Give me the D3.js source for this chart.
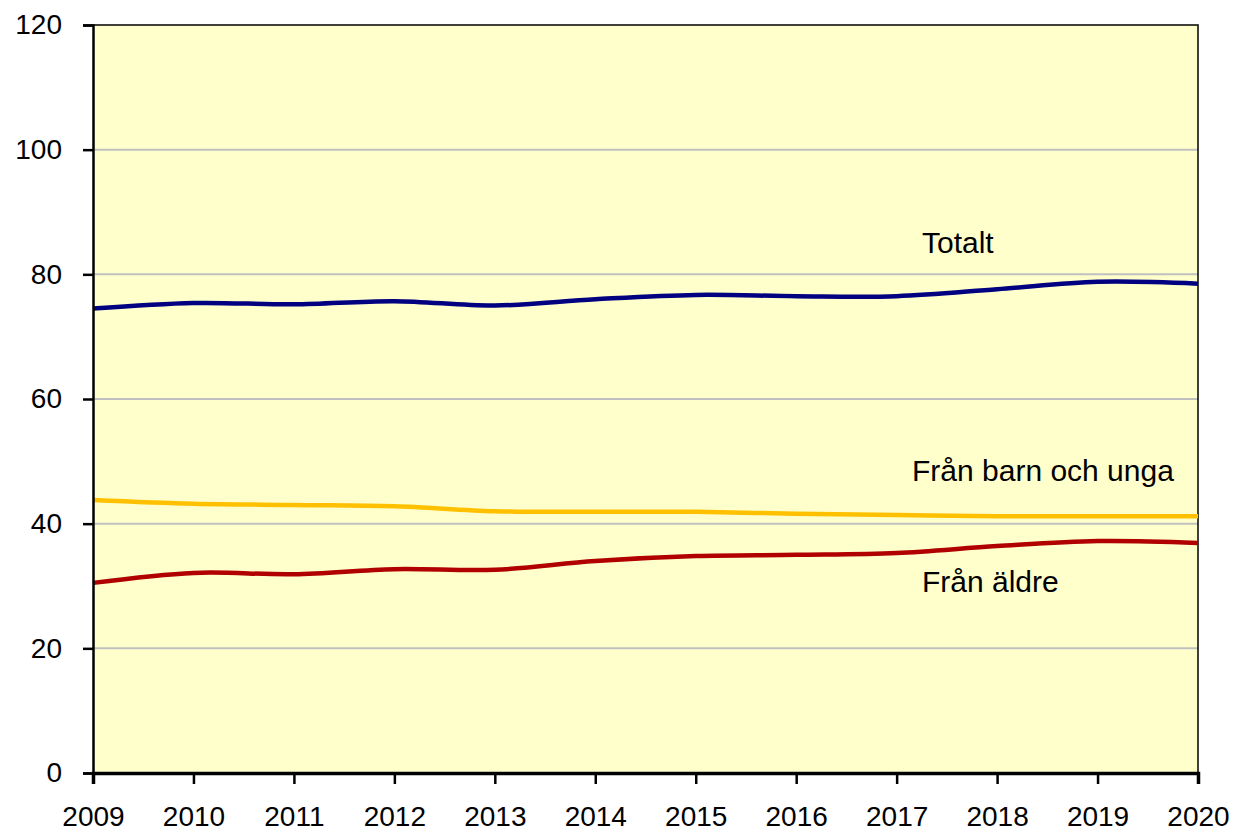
<!DOCTYPE html>
<html>
<head>
<meta charset="utf-8">
<script src="https://cdn.jsdelivr.net/npm/d3@7"></script>
<style>
  body { margin: 0; background: #fff; }
  text { font-family: "Liberation Sans", Arial, sans-serif; }
</style>
</head>
<body>
<svg id="chart"></svg>
<script>
const width = 1235;
const height = 836;
const margin = {top: 25, right: 37, bottom: 63, left: 93};

const years = [2009, 2010, 2011, 2012, 2013, 2014, 2015, 2016, 2017, 2018, 2019, 2020];
const totalt = [74.5, 75.4, 75.2, 75.7, 75.0, 76.0, 76.7, 76.5, 76.5, 77.6, 78.8, 78.5];
const barnUnga = [43.8, 43.2, 43.0, 42.8, 42.0, 41.9, 41.9, 41.6, 41.4, 41.2, 41.2, 41.2];
const aldre = [30.5, 32.1, 31.9, 32.7, 32.6, 34.0, 34.8, 35.0, 35.3, 36.4, 37.2, 36.9];
const yTicks = [0, 20, 40, 60, 80, 100, 120];

const series = [
  {name: 'Totalt', values: totalt, color: '#000080', lx: 922, ly: 253},
  {name: 'Från barn och unga', values: barnUnga, color: '#FFC000', lx: 912, ly: 481},
  {name: 'Från äldre', values: aldre, color: '#B00000', lx: 922, ly: 592}
];

const svg = d3.select('#chart')
  .attr('width', width)
  .attr('height', height);

const x = d3.scaleLinear().domain([2009, 2020]).range([margin.left, width - margin.right]);
const y = d3.scaleLinear().domain([0, 120]).range([height - margin.bottom, margin.top]);

// plot background
svg.append('rect')
  .attr('x', x(2009)).attr('y', y(120))
  .attr('width', x(2020) - x(2009)).attr('height', y(0) - y(120))
  .attr('fill', '#FFFFCC');

// gridlines
svg.append('g')
  .selectAll('line')
  .data(yTicks.filter(d => d > 0 && d < 120))
  .join('line')
  .attr('x1', x(2009)).attr('x2', x(2020))
  .attr('y1', d => y(d)).attr('y2', d => y(d))
  .attr('stroke', '#C0C0C0').attr('stroke-width', 2);

// top and right border
svg.append('path')
  .attr('d', `M${x(2009)},${y(120)}H${x(2020)}V${y(0)}`)
  .attr('fill', 'none').attr('stroke', '#000').attr('stroke-width', 1.5);

// lines (smoothed like the original)
const line = d3.line()
  .x((d, i) => x(years[i]))
  .y(d => y(d))
  .curve(d3.curveCatmullRom.alpha(0.5));

svg.append('g')
  .selectAll('path')
  .data(series)
  .join('path')
  .attr('d', d => line(d.values))
  .attr('fill', 'none')
  .attr('stroke', d => d.color)
  .attr('stroke-width', 4.5);

// axes
const yAxis = svg.append('g')
  .attr('transform', `translate(${x(2009)},0)`)
  .call(d3.axisLeft(y).tickValues(yTicks).tickSize(10).tickPadding(21));
yAxis.select('.domain').attr('stroke-width', 2.5);
yAxis.selectAll('.tick line').attr('stroke-width', 2.5);
yAxis.selectAll('.tick text').attr('font-size', 28).attr('fill', '#000')
  .attr('font-family', '"Liberation Sans", Arial, sans-serif');

const xAxis = svg.append('g')
  .attr('transform', `translate(0,${y(0)})`)
  .call(d3.axisBottom(x).tickValues(years).tickFormat(d3.format('d')).tickSize(11).tickPadding(22));
xAxis.select('.domain').attr('stroke-width', 3.5);
xAxis.selectAll('.tick line').attr('stroke-width', 2.5);
xAxis.selectAll('.tick text').attr('font-size', 28).attr('fill', '#000')
  .attr('font-family', '"Liberation Sans", Arial, sans-serif');

// labels
svg.append('g')
  .selectAll('text')
  .data(series)
  .join('text')
  .attr('x', d => d.lx)
  .attr('y', d => d.ly)
  .attr('font-size', 30)
  .attr('fill', '#000')
  .text(d => d.name);
</script>
</body>
</html>
